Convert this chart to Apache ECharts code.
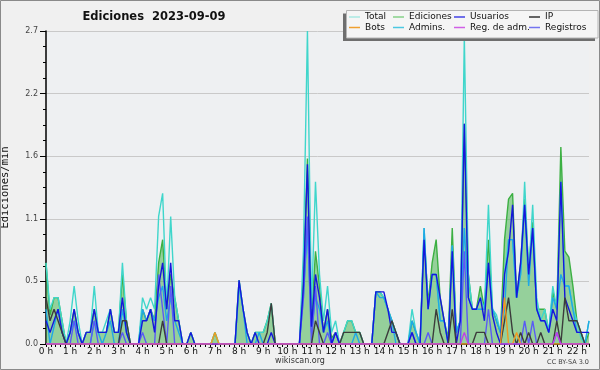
<!DOCTYPE html>
<html><head><meta charset="utf-8">
<script src="https://cdn.jsdelivr.net/npm/echarts@6/dist/echarts.min.js"></script>
<style>html,body{margin:0;padding:0;background:#f0f0f0}#c{width:600px;height:370px}</style>
</head><body><div id="c"></div>
<script>
// 10-minute bins, one line per hour
const BIN_HOURS = 1/6;
const total = [
 0.7,0.3,0.4,0.4,0.2,0,
 0.2,0.5,0.2,0,0.1,0.1,
 0.5,0.1,0.1,0.2,0.3,0.1,
 0.1,0.7,0.2,0,0,0,
 0.4,0.3,0.4,0.3,1.1,1.3,
 0.3,1.1,0.4,0.2,0,0,
 0.1,0,0,0,0,0,
 0.1,0,0,0,0,0,
 0.55,0.3,0.1,0,0.1,0.1,
 0.1,0.2,0.35,0,0,0,
 0,0,0,0,0.8,2.7,
 0.3,1.4,0.6,0.2,0.5,0.1,
 0.2,0,0.1,0.2,0.2,0.1,
 0.1,0,0,0,0.45,0.45,
 0.4,0.3,0.2,0.1,0,0,
 0,0.3,0.1,0,1.0,0.3,
 0.6,0.6,0.2,0.2,0,0.85,
 0.1,0.2,2.65,0.6,0.3,0.3,
 0.4,0.3,1.2,0.3,0.25,0.1,
 0.6,0.9,0.9,0.4,0.6,1.4,
 0.6,1.2,0.4,0.2,0.3,0.1,
 0.5,0.3,1.4,0.5,0.5,0.3,
 0.2,0.05,0,0.2];
const ediciones = [
 0.7,0.25,0.4,0.4,0.2,0,
 0.1,0.3,0.1,0,0.1,0.1,
 0.3,0.1,0.1,0.1,0.3,0.1,
 0.1,0.6,0.2,0,0,0,
 0.3,0.2,0.3,0.2,0.7,0.9,
 0.3,0.6,0.4,0.2,0,0,
 0.1,0,0,0,0,0,
 0.1,0,0,0,0,0,
 0.55,0.3,0.1,0,0.1,0.1,
 0.1,0.2,0.35,0,0,0,
 0,0,0,0,0.6,1.6,
 0.2,0.8,0.5,0.1,0.3,0.05,
 0.1,0,0.1,0.2,0.2,0.1,
 0.1,0,0,0,0.45,0.45,
 0.4,0.3,0.2,0.1,0,0,
 0,0.2,0.1,0,0.95,0.35,
 0.7,0.9,0.4,0.2,0.05,1.0,
 0.1,0.2,1.9,0.6,0.3,0.3,
 0.5,0.3,0.9,0.3,0.2,0.1,
 0.9,1.25,1.3,0.4,0.7,1.25,
 0.65,1.05,0.3,0.3,0.3,0.1,
 0.45,0.3,1.7,0.8,0.75,0.5,
 0.2,0.1,0,0.1];
const usuarios = [
 0.2,0.1,0.2,0.3,0.1,0,
 0.1,0.3,0.1,0,0.1,0.1,
 0.3,0.1,0.1,0.1,0.3,0.1,
 0.1,0.4,0.1,0,0,0,
 0.2,0.2,0.3,0.1,0.5,0.7,
 0.3,0.7,0.2,0.2,0,0,
 0.1,0,0,0,0,0,
 0,0,0,0,0,0,
 0.55,0.3,0.1,0,0.1,0,
 0,0,0.1,0,0,0,
 0,0,0,0,0.5,1.55,
 0.15,0.6,0.4,0.1,0.3,0,
 0.1,0,0,0,0,0,
 0,0,0,0,0.45,0.45,
 0.45,0.3,0.1,0.1,0,0,
 0,0.1,0,0,0.9,0.3,
 0.6,0.6,0.4,0.2,0,0.8,
 0,0.2,1.9,0.4,0.3,0.3,
 0.4,0.2,0.7,0.25,0.1,0,
 0.6,0.8,1.2,0.4,0.7,1.2,
 0.6,1.0,0.3,0.2,0.2,0.1,
 0.3,0.2,1.4,0.4,0.3,0.2,
 0.1,0.1,0.1,0.1];
const ip = [
 0.4,0.2,0.3,0.2,0.1,0,
 0,0,0,0,0,0,
 0,0,0,0,0,0,
 0,0.2,0.2,0,0,0,
 0,0,0,0,0,0.2,
 0,0,0,0,0,0,
 0,0,0,0,0,0,
 0,0,0,0,0,0,
 0,0,0,0,0,0,
 0,0.1,0.35,0,0,0,
 0,0,0,0,0,0,
 0,0.2,0.1,0,0,0,
 0,0,0.1,0.1,0.1,0.1,
 0.1,0,0,0,0,0,
 0,0.1,0.2,0.1,0,0,
 0,0,0,0,0,0,
 0,0.3,0.1,0,0,0.3,
 0,0,0,0,0,0.1,
 0.1,0.1,0,0,0,0,
 0.2,0.4,0.1,0,0.1,0,
 0.1,0,0,0.1,0,0,
 0,0.2,0,0.4,0.2,0.2,
 0.2,0.1,0,0];
const admins = [
 0.3,0,0.15,0.3,0.1,0,
 0.1,0.2,0.1,0,0,0,
 0.2,0.1,0,0.1,0.2,0,
 0,0.3,0.1,0,0,0,
 0.3,0.2,0.3,0.2,0.4,0.5,
 0.2,0.4,0.2,0.1,0,0,
 0,0,0,0,0,0,
 0,0,0,0,0,0,
 0.5,0.3,0,0,0,0.1,
 0,0,0,0,0,0,
 0,0,0,0,0.4,1.0,
 0.1,0.4,0.3,0.1,0.2,0,
 0.1,0,0,0,0,0.1,
 0,0,0,0,0.45,0.4,
 0.4,0.3,0.2,0,0,0,
 0,0.2,0.1,0,1.0,0.3,
 0.6,0.6,0.2,0.2,0,0.85,
 0.1,0.2,1.0,0.4,0.3,0.3,
 0.3,0.3,0.7,0.3,0.2,0.1,
 0.3,0.9,0.9,0.4,0.6,1.2,
 0.5,1.0,0.3,0.2,0.2,0.1,
 0.4,0.3,0.6,0.5,0.5,0.3,
 0.1,0.1,0,0.2];
const registros = [
 0,0,0,0,0,0,
 0,0.2,0,0,0,0,
 0.2,0,0,0,0,0,
 0,0.1,0,0,0,0,
 0.1,0,0,0,0.6,0.3,
 0,0.5,0,0,0,0,
 0,0,0,0,0,0,
 0,0,0,0,0,0,
 0,0,0,0,0,0,
 0,0,0,0,0,0,
 0,0,0,0,0.4,1.1,
 0,0.5,0,0,0.1,0,
 0.1,0,0,0,0,0,
 0,0,0,0,0,0,
 0,0,0,0,0,0,
 0,0.1,0,0,0,0.1,
 0,0,0,0,0,0,
 0,0,0.8,0,0,0,
 0,0,0.3,0,0,0,
 0,0,0,0,0,0.2,
 0,0.2,0,0,0,0,
 0,0.1,0,0,0,0,
 0,0,0,0];
const bots = [
 0,0,0,0,0,0, 0,0,0,0,0,0, 0,0,0,0,0,0, 0,0,0,0,0,0,
 0,0,0,0,0,0, 0,0,0,0,0,0, 0,0,0,0,0,0, 0.1,0,0,0,0,0,
 0,0,0,0,0,0, 0,0,0,0,0,0, 0,0,0,0,0,0, 0,0,0,0,0,0,
 0,0,0,0,0,0, 0,0,0,0,0,0, 0,0,0,0,0,0, 0,0,0,0,0,0,
 0,0,0,0,0,0, 0,0,0,0,0,0, 0,0,0,0,0,0,
 0.4,0,0,0.1,0,0,
 0,0,0,0,0,0, 0,0,0,0,0,0, 0,0,0,0];
const regAdm = [
 0,0,0,0,0,0, 0,0,0,0,0,0, 0,0,0,0,0,0, 0,0,0,0,0,0,
 0,0,0,0,0,0, 0,0,0,0,0,0, 0,0,0,0,0,0, 0,0,0,0,0,0,
 0,0,0,0,0,0, 0,0,0,0,0,0, 0,0,0,0,0,0, 0,0,0,0,0,0,
 0,0,0,0,0,0, 0,0,0,0,0,0, 0,0,0,0,0,0, 0,0,0,0,0,0,
 0,0,0,0,0,0,
 0,0,0.1,0,0,0,
 0,0,0,0,0,0,
 0,0,0,0,0,0,
 0,0,0,0,0,0,
 0,0.1,0,0,0,0,
 0,0,0,0];
const seriesNames = ['Total','Ediciones','Usuarios','IP','Bots','Admins.','Reg. de adm.','Registros'];

function pairs(arr){ return arr.map((v,i)=>[i*BIN_HOURS, v]); }

const lineColors = {
  'Total':'#3fd6cb','Ediciones':'#3cb043','Usuarios':'#1616dc','IP':'#3c3c3c',
  'Bots':'#f09a20','Admins.':'#1fa8e6','Reg. de adm.':'#c040e8','Registros':'#5a5af5'
};
const swatch = {
  'Total':'#a8e8e2','Ediciones':'#86d088','Usuarios':'#4242e4','IP':'#333333',
  'Bots':'#f0a030','Admins.':'#4cc8e2','Reg. de adm.':'#d060e6','Registros':'#7474f0'
};
const dataByName = {
  'Total':total,'Ediciones':ediciones,'Usuarios':usuarios,'IP':ip,
  'Bots':bots,'Admins.':admins,'Reg. de adm.':regAdm,'Registros':registros
};
const drawOrder = ['Ediciones','Total','Admins.','Registros','Usuarios','IP','Bots','Reg. de adm.'];

const series = drawOrder.map(n => {
  const s = {
    name:n, type:'line', data:pairs(dataByName[n]), showSymbol:false, symbol:'none',
    lineStyle:{color:lineColors[n], width:1.4}, itemStyle:{color:lineColors[n]},
    silent:true, animation:false
  };
  if (n==='Ediciones') s.areaStyle = {color:'#3cb043', opacity:0.5};
  return s;
});

const colX = [349, 393, 454, 529];
const rowY = [12.5, 23];
const legends = seriesNames.map((n,i) => ({
  data:[{name:n, itemStyle:{color:swatch[n]}}],
  left: colX[i%4], top: rowY[Math.floor(i/4)],
  icon:'rect', itemWidth:11, itemHeight:1.5, itemGap:0, padding:0, selectedMode:false,
  textStyle:{fontFamily:'DejaVu Sans', fontSize:9, color:'#111', padding:[0,0,0,0]},
  z:20
}));

const chart = echarts.init(document.getElementById('c'), null, {renderer:'canvas'});
chart.setOption({
  animation:false,
  backgroundColor:'#f0f0f0',
  grid:{left:46, right:11, top:31, bottom:26, show:true, backgroundColor:'#eef0f2', borderWidth:0,
        containLabel:false, outerBoundsMode:'none'},
  legend: legends,
  xAxis:{
    type:'value', min:0, max:22.5, interval:1,
    axisLine:{lineStyle:{color:'#000', width:1.5}},
    axisTick:{show:true, length:3, lineStyle:{color:'#000'}},
    minorTick:{show:true, splitNumber:5, length:3, lineStyle:{color:'#000'}},
    axisLabel:{formatter:v=>v+' h', fontFamily:'DejaVu Sans', fontSize:9, color:'#111', margin:3, showMaxLabel:false},
    splitLine:{show:false}
  },
  yAxis:{
    type:'value', min:0, max:2.7, interval:0.54,
    name:'Ediciones/min', nameLocation:'middle', nameGap:35, nameRotate:90,
    nameTextStyle:{fontFamily:'DejaVu Sans Mono', fontSize:10.5, color:'#111'},
    axisLine:{show:true, lineStyle:{color:'#000', width:1.5}},
    axisTick:{show:true, length:6, lineStyle:{color:'#000'}},
    minorTick:{show:true, splitNumber:4, length:3, lineStyle:{color:'#000'}},
    axisLabel:{formatter:v=>v.toFixed(1), fontFamily:'DejaVu Sans', fontSize:8, color:'#444', margin:8},
    splitLine:{show:true, lineStyle:{color:'#c9c9c9', width:1}}
  },
  graphic:[
    {type:'rect', z:15, shape:{x:343, y:13.5, width:252, height:27.5}, style:{fill:'#6e6e6e'}},
    {type:'rect', z:16, shape:{x:346.5, y:10.5, width:251.5, height:27.5}, style:{fill:'#f5f5f5', stroke:'#b4b4b4', lineWidth:1}},
    {type:'text', z:16, x:154, y:17, style:{text:'Ediciones  2023-09-09', fontFamily:'DejaVu Sans', fontWeight:'bold', fontSize:11.5, fill:'#111', textAlign:'center', textVerticalAlign:'middle'}},
    {type:'text', z:16, x:300, y:361, style:{text:'wikiscan.org', fontFamily:'DejaVu Sans', fontSize:8, fill:'#333', textAlign:'center', textVerticalAlign:'middle'}},
    {type:'text', z:16, x:589, y:362, style:{text:'CC BY-SA 3.0', fontFamily:'DejaVu Sans', fontSize:6.5, fill:'#444', textAlign:'right', textVerticalAlign:'middle'}},
    {type:'rect', z:30, shape:{x:0.5, y:0.5, width:599, height:369}, style:{fill:'none', stroke:'#8a8a8a', lineWidth:1}}
  ],
  series: series
});
</script></body></html>
